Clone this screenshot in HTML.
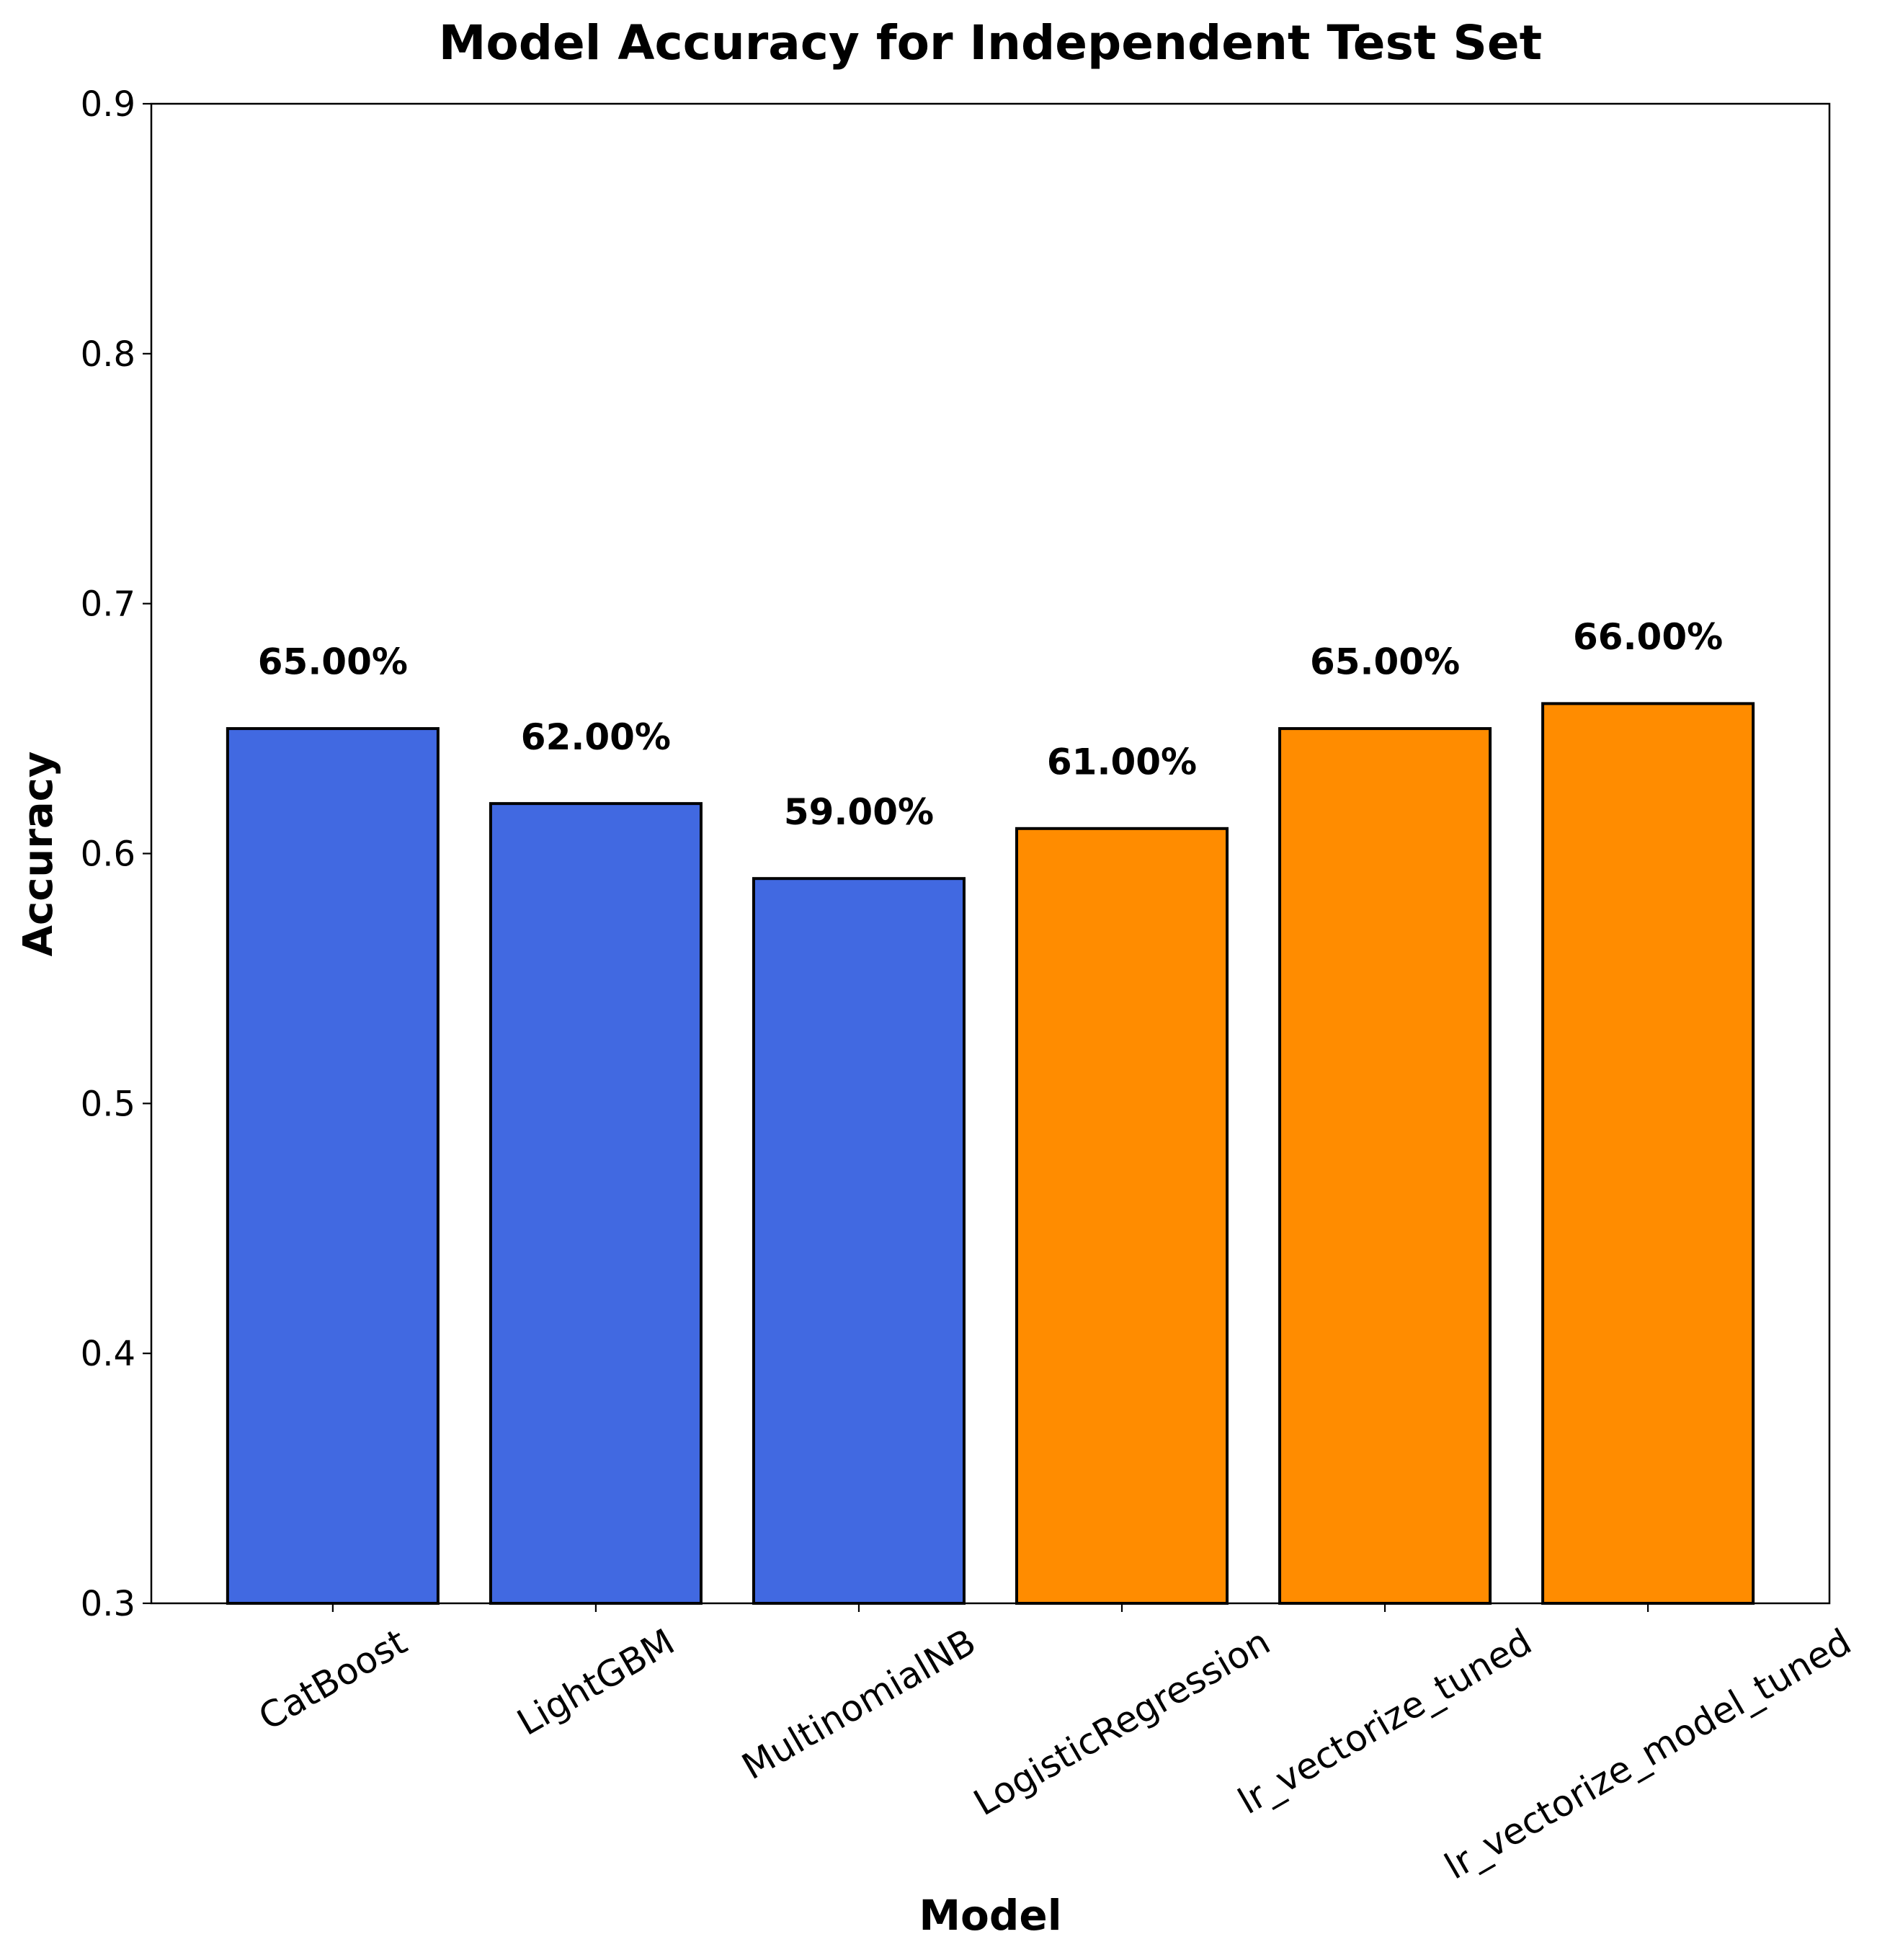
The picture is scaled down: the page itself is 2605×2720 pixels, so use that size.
<!DOCTYPE html>
<html><head><meta charset="utf-8"><style>
html,body{margin:0;padding:0;background:#fff;}
svg{display:block;font-family:"DejaVu Sans","Liberation Sans",sans-serif;}
</style></head><body>
<svg id="chart" width="2605" height="2720" viewBox="0 0 2605 2720" xmlns="http://www.w3.org/2000/svg">
<rect x="0" y="0" width="2605" height="2720" fill="#fff"/>
<text x="1374.5" y="82" text-anchor="middle" font-size="66" font-weight="bold">Model Accuracy for Independent Test Set</text>
<g id="plot"></g>
<text transform="translate(72,1185) rotate(-90)" text-anchor="middle" font-size="56" font-weight="bold">Accuracy</text>
<text x="1374.5" y="2678" text-anchor="middle" font-size="58" font-weight="bold">Model</text>
</svg>
<script>
const categories = ["CatBoost","LightGBM","MultinomialNB","LogisticRegression","lr_vectorize_tuned","lr_vectorize_model_tuned"];
const accuracy = [0.65,0.62,0.59,0.61,0.65,0.66];
const barColors = ["#4169E1","#4169E1","#4169E1","#FF8C00","#FF8C00","#FF8C00"];
const yTicks = [0.3,0.4,0.5,0.6,0.7,0.8,0.9];
const yTickLabels = ["0.3","0.4","0.5","0.6","0.7","0.8","0.9"];
const valueLabels = ["65.00%","62.00%","59.00%","61.00%","65.00%","66.00%"];

const NS="http://www.w3.org/2000/svg";
const L=210,R=2539,T=144,B=2225;
const yMin=0.3,yMax=0.9;
const xMin=-0.69,xMax=categories.length-1+0.69;
const x=v=>L+(v-xMin)/(xMax-xMin)*(R-L);
const y=v=>B-(v-yMin)/(yMax-yMin)*(B-T);
const g=document.getElementById('plot');
function mk(tag,attrs,parent){const e=document.createElementNS(NS,tag);for(const k in attrs)e.setAttribute(k,attrs[k]);(parent||g).appendChild(e);return e;}
const bw=0.8*(x(1)-x(0));
categories.forEach((c,i)=>{
  const r=mk('rect',{x:x(i)-bw/2,y:y(accuracy[i]),width:bw,height:B-y(accuracy[i]),fill:barColors[i],stroke:'#000','stroke-width':4});
  
  
  const t=mk('text',{x:x(i),y:y(accuracy[i]+0.02)-6,'text-anchor':'middle','font-size':50,'font-weight':'bold'});
  t.textContent=valueLabels[i];
  
  
});
const sp=mk('rect',{x:L,y:T,width:R-L,height:B-T,fill:'none',stroke:'#000','stroke-width':2.5});


yTicks.forEach((v,i)=>{
  const l=mk('line',{x1:L-12,x2:L,y1:y(v),y2:y(v),stroke:'#000','stroke-width':2.2});
  
  
  const t=mk('text',{x:L-22,y:y(v)+17,'text-anchor':'end','font-size':48});
  t.textContent=yTickLabels[i];
  
  
});
categories.forEach((c,i)=>{
  const l=mk('line',{x1:x(i),x2:x(i),y1:B,y2:B+12,stroke:'#000','stroke-width':2.2});
  
  
  const t=mk('text',{x:0,y:0,'text-anchor':'middle','dominant-baseline':'central','font-size':50});
  t.textContent=c;
  
  
  const W=t.getComputedTextLength(),H=50*1.17;
  const a=Math.PI/6;
  const bh=W*Math.sin(a)+H*Math.cos(a);
  const cy=B+24+bh/2;
  t.setAttribute('transform','translate('+x(i)+','+cy+') rotate(-30)');
});
</script>
</body></html>
